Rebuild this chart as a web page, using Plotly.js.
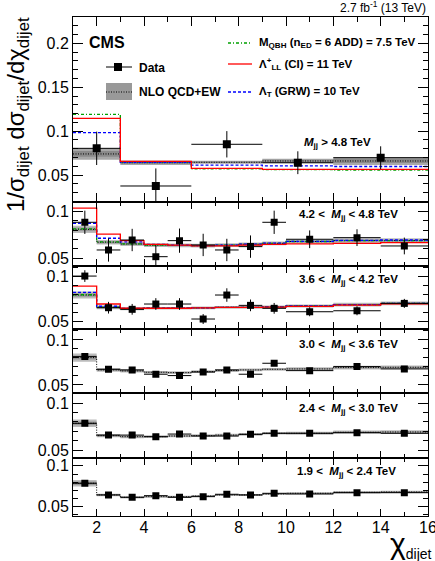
<!DOCTYPE html>
<html><head><meta charset="utf-8">
<script src="https://cdn.plot.ly/plotly-3.0.1.min.js"></script>
<style>html,body{margin:0;padding:0;background:#fff}</style>
</head><body><div id="chart" style="width:435px;height:561px"></div>
<script>
// ---------------- data ----------------
const edgesHigh = [1, 3, 6, 9, 12, 16];
const edgesLow = [1, 2, 3, 4, 5, 6, 7, 8, 9, 10, 12, 14, 16];

const massLabels = [
  '<i>M</i><sub>jj</sub> > 4.8 TeV',
  '4.2 <  <i>M</i><sub>jj</sub> < 4.8 TeV',
  '3.6 <  <i>M</i><sub>jj</sub> < 4.2 TeV',
  '3.0 <  <i>M</i><sub>jj</sub> < 3.6 TeV',
  '2.4 <  <i>M</i><sub>jj</sub> < 3.0 TeV',
  '1.9 <  <i>M</i><sub>jj</sub> < 2.4 TeV'
];

// M > 4.8 TeV
const data1 = [0.0804, 0.0375, 0.0850, 0.0640, 0.0697];
const err1  = [0.0190, 0.0200, 0.0150, 0.0130, 0.0130];
const qcd1  = [0.0740, 0.0640, 0.0645, 0.0660, 0.0660];
const unc1  = [0.0065, 0.0025, 0.0018, 0.0025, 0.0045];
const qbh1  = [0.1190, 0.0650, 0.0570, 0.0562, 0.0555];
const ci1   = [0.1146, 0.0655, 0.0576, 0.0565, 0.0565];
const grw1  = [0.0982, 0.0645, 0.0612, 0.0605, 0.0597];

// 4.2 < M < 4.8 TeV
const data2 = [0.0886, 0.0589, 0.0696, 0.0517, 0.0689, 0.0643, 0.0589, 0.0625, 0.0886, 0.0704, 0.0721, 0.0632];
const err2  = [0.0125, 0.0125, 0.0120, 0.0125, 0.0130, 0.0120, 0.0120, 0.0120, 0.0125, 0.0095, 0.0090, 0.0090];
const qcd2  = [0.0810, 0.0672, 0.0653, 0.0640, 0.0638, 0.0635, 0.0640, 0.0650, 0.0660, 0.0680, 0.0690, 0.0690];
const unc2  = [0.0040, 0.0025, 0.0022, 0.0020, 0.0020, 0.0020, 0.0020, 0.0020, 0.0020, 0.0022, 0.0025, 0.0025];
const qbh2  = [0.0815, 0.0675, 0.0655, 0.0640, 0.0638, 0.0635, 0.0640, 0.0650, 0.0660, 0.0680, 0.0690, 0.0690];
const ci2   = [0.1037, 0.0760, 0.0689, 0.0648, 0.0640, 0.0632, 0.0632, 0.0640, 0.0650, 0.0655, 0.0660, 0.0667];
const grw2  = [0.0876, 0.0715, 0.0675, 0.0650, 0.0640, 0.0635, 0.0640, 0.0652, 0.0662, 0.0682, 0.0692, 0.0696];

// 3.6 < M < 4.2 TeV
const data3 = [0.1008, 0.0656, 0.0638, 0.0697, 0.0697, 0.0530, 0.0797, 0.0682, 0.0649, 0.0611, 0.0622, 0.0704];
const err3  = [0.0065, 0.0065, 0.0060, 0.0065, 0.0065, 0.0055, 0.0075, 0.0065, 0.0060, 0.0050, 0.0050, 0.0050];
const qcd3  = [0.0797, 0.0660, 0.0645, 0.0650, 0.0650, 0.0655, 0.0660, 0.0660, 0.0665, 0.0675, 0.0690, 0.0704];
const unc3  = [0.0040, 0.0020, 0.0018, 0.0015, 0.0015, 0.0015, 0.0015, 0.0015, 0.0015, 0.0018, 0.0020, 0.0020];
const qbh3  = [0.0800, 0.0662, 0.0645, 0.0650, 0.0650, 0.0655, 0.0660, 0.0660, 0.0665, 0.0675, 0.0690, 0.0704];
const ci3   = [0.0897, 0.0697, 0.0650, 0.0650, 0.0650, 0.0655, 0.0660, 0.0660, 0.0662, 0.0670, 0.0685, 0.0700];
const grw3  = [0.0827, 0.0672, 0.0648, 0.0650, 0.0650, 0.0655, 0.0660, 0.0660, 0.0665, 0.0675, 0.0690, 0.0704];

// 3.0 < M < 3.6 TeV
const data4 = [0.0815, 0.0674, 0.0667, 0.0619, 0.0604, 0.0644, 0.0667, 0.0619, 0.0741, 0.0659, 0.0704, 0.0678];
const err4  = [0.0030, 0.0025, 0.0025, 0.0025, 0.0025, 0.0025, 0.0025, 0.0025, 0.0030, 0.0020, 0.0020, 0.0020];
const qcd4  = [0.0804, 0.0667, 0.0656, 0.0641, 0.0637, 0.0648, 0.0660, 0.0667, 0.0674, 0.0678, 0.0693, 0.0696];
const unc4  = [0.0045, 0.0020, 0.0018, 0.0015, 0.0015, 0.0015, 0.0015, 0.0015, 0.0015, 0.0018, 0.0020, 0.0020];

// 2.4 < M < 3.0 TeV
const data5 = [0.0786, 0.0660, 0.0660, 0.0643, 0.0671, 0.0650, 0.0650, 0.0668, 0.0679, 0.0679, 0.0686, 0.0679];
const err5  = [0.0015, 0.0012, 0.0012, 0.0012, 0.0012, 0.0012, 0.0012, 0.0012, 0.0012, 0.0010, 0.0010, 0.0010];
const qcd5  = [0.0786, 0.0654, 0.0643, 0.0643, 0.0650, 0.0654, 0.0660, 0.0668, 0.0679, 0.0679, 0.0690, 0.0693];
const unc5  = [0.0040, 0.0018, 0.0016, 0.0014, 0.0014, 0.0014, 0.0014, 0.0014, 0.0014, 0.0016, 0.0018, 0.0018];

// 1.9 < M < 2.4 TeV
const data6 = [0.0787, 0.0644, 0.0615, 0.0635, 0.0615, 0.0623, 0.0652, 0.0644, 0.0664, 0.0656, 0.0672, 0.0672];
const err6  = [0.0010, 0.0008, 0.0008, 0.0008, 0.0008, 0.0008, 0.0008, 0.0008, 0.0008, 0.0007, 0.0007, 0.0007];
const qcd6  = [0.0787, 0.0644, 0.0615, 0.0623, 0.0623, 0.0631, 0.0644, 0.0644, 0.0656, 0.0664, 0.0676, 0.0680];
const unc6  = [0.0040, 0.0016, 0.0014, 0.0012, 0.0012, 0.0012, 0.0012, 0.0012, 0.0012, 0.0014, 0.0016, 0.0016];

const yTickTop = [0.05, 0.1, 0.15, 0.2];
const yTickTopText = ['0.05', '0.1', '0.15', '0.2'];
const yTickLow = [0.05, 0.1];
const yTickLowText = ['0.05', '0.1'];
const xTickVals = [2, 4, 6, 8, 10, 12, 14, 16];
const xTickText = ['2', '4', '6', '8', '10', '12', '14', '16'];

// ---------------- building ----------------
const panels = [
  {edges: edgesHigh, data: data1, err: err1, qcd: qcd1, unc: unc1, qbh: qbh1, ci: ci1, grw: grw1, range: [0.0196, 0.23]},
  {edges: edgesLow, data: data2, err: err2, qcd: qcd2, unc: unc2, qbh: qbh2, ci: ci2, grw: grw2, range: [0.0417, 0.1107]},
  {edges: edgesLow, data: data3, err: err3, qcd: qcd3, unc: unc3, qbh: qbh3, ci: ci3, grw: grw3, range: [0.0419, 0.112]},
  {edges: edgesLow, data: data4, err: err4, qcd: qcd4, unc: unc4, range: [0.0407, 0.1122]},
  {edges: edgesLow, data: data5, err: err5, qcd: qcd5, unc: unc5, range: [0.0418, 0.1107]},
  {edges: edgesLow, data: data6, err: err6, qcd: qcd6, unc: unc6, range: [0.0386, 0.110]}
];

const L = 73, R = 7, T = 17, B = 45, FW = 435, FH = 561;
const PW = FW - L - R, PH = FH - T - B;
const bounds = [17, 201.7, 266, 329, 393.3, 457.7, 516];
const px = v => (v - L) / PW;
const py = v => (FH - B - v) / PH;

const centers = e => e.slice(0, -1).map((a, i) => (a + e[i + 1]) / 2);
const halfw = e => e.slice(0, -1).map((a, i) => (e[i + 1] - a) / 2);
const step = v => v.concat([v[v.length - 1]]);

const FONT = 'Liberation Sans, Arial, Helvetica, sans-serif';
const traces = [];
const layout = {
  width: FW, height: FH,
  margin: {l: L, r: R, t: T, b: B, pad: 0},
  paper_bgcolor: '#fff', plot_bgcolor: '#fff',
  showlegend: false,
  font: {family: FONT, color: '#000'},
  annotations: [], shapes: []
};

panels.forEach((p, i) => {
  const n = i + 1;
  const xa = 'x' + (n === 1 ? '' : n), ya = 'y' + (n === 1 ? '' : n);
  const xe = p.edges;
  const lo = p.qcd.map((v, k) => v - p.unc[k]);
  const hi = p.qcd.map((v, k) => v + p.unc[k]);
  const loIn = p.qcd.map((v, k) => v - 0.5 * p.unc[k]);
  const hiIn = p.qcd.map((v, k) => v + 0.5 * p.unc[k]);
  const base = {xaxis: xa, yaxis: ya, mode: 'lines', hoverinfo: 'skip'};
  traces.push(Object.assign({}, base, {x: xe, y: step(lo), line: {width: 0, shape: 'hv'}}));
  traces.push(Object.assign({}, base, {x: xe, y: step(hi), line: {width: 0, shape: 'hv'}, fill: 'tonexty', fillcolor: n === 1 ? '#a8a8a8' : '#bcbcbc'}));
  traces.push(Object.assign({}, base, {x: xe, y: step(loIn), line: {width: 0, shape: 'hv'}}));
  traces.push(Object.assign({}, base, {x: xe, y: step(hiIn), line: {width: 0, shape: 'hv'}, fill: 'tonexty', fillcolor: n === 1 ? '#8a8a8a' : '#9a9a9a'}));
  traces.push(Object.assign({}, base, {x: xe, y: step(p.qcd), line: {color: '#000', width: 1, dash: '1px,1.5px', shape: 'hv'}}));
  if (p.qbh) {
    traces.push(Object.assign({}, base, {x: xe, y: step(p.qbh), line: {color: '#00a000', width: 1.3, dash: '3px,2px,1px,2px', shape: 'hv'}}));
    traces.push(Object.assign({}, base, {x: xe, y: step(p.grw), line: {color: '#0000ff', width: 1.3, dash: '3px,2px', shape: 'hv'}}));
    traces.push(Object.assign({}, base, {x: xe, y: step(p.ci), line: {color: '#ff0000', width: 1.3, shape: 'hv'}}));
  }
  traces.push({
    xaxis: xa, yaxis: ya, type: 'scatter', mode: 'markers', hoverinfo: 'skip',
    x: centers(p.edges), y: p.data,
    marker: {symbol: 'square', size: n === 1 ? 8 : 7, color: '#000'},
    error_y: {type: 'data', array: p.err, visible: true, width: 0, thickness: 1, color: '#000'},
    error_x: {type: 'data', array: halfw(p.edges), visible: true, width: 0, thickness: 1, color: '#000'}
  });

  const top = bounds[i], bot = bounds[i + 1];
  layout['xaxis' + (n === 1 ? '' : n)] = {
    domain: [0, 1], anchor: ya, range: [1, 16],
    tickmode: 'array', tickvals: xTickVals, ticktext: xTickText,
    ticks: 'inside', ticklen: n === 1 ? 9 : 7, tickwidth: 1, tickcolor: '#000',
    minor: {dtick: 1, tick0: 0, ticks: 'inside', ticklen: n === 1 ? 5 : 4, tickcolor: '#000', tickwidth: 1, showgrid: false},
    showline: true, linecolor: '#000', linewidth: 1, mirror: 'ticks',
    showgrid: false, zeroline: false, showticklabels: n === 6,
    ticklabeloverflow: 'allow',
    tickfont: {family: FONT, size: 16, color: '#000'}, ticklabelstandoff: -3
  };
  if (n !== 1) layout['xaxis' + n].matches = 'x';
  layout['yaxis' + (n === 1 ? '' : n)] = {
    domain: [py(bot), py(top)], anchor: xa, range: p.range,
    tickmode: 'array',
    tickvals: n === 1 ? yTickTop : yTickLow,
    ticktext: n === 1 ? yTickTopText : yTickLowText,
    ticks: 'inside', ticklen: 10, tickwidth: 1, tickcolor: '#000',
    minor: {dtick: 0.01, tick0: 0, ticks: 'inside', ticklen: 5, tickcolor: '#000', tickwidth: 1, showgrid: false},
    showline: true, linecolor: '#000', linewidth: 1, mirror: 'ticks',
    showgrid: false, zeroline: false,
    tickfont: {family: FONT, size: 16, color: '#000'}
  };

  // mass label
  const lblY = [143, 215, 280, 345, 409, 472][i];
  const lblX = [373, 400, 400, 400, 400, 398][i];
  layout.annotations.push({
    xref: 'paper', yref: 'paper', x: px(lblX), y: py(lblY), xanchor: 'right', yanchor: 'middle',
    text: '<b>' + massLabels[i] + '</b>', showarrow: false, font: {family: FONT, size: 11.5, color: '#000'}
  });
});

// texts
const ann = (x, y, text, size, xa, extra) => layout.annotations.push(Object.assign({
  xref: 'paper', yref: 'paper', x: px(x), y: py(y), xanchor: xa || 'left', yanchor: 'middle',
  text: text, showarrow: false, font: {family: FONT, size: size, color: '#000'}
}, extra || {}));

ann(428, 7, '2.7 fb<sup>-1</sup> (13 TeV)', 12, 'right');
ann(87, 42, '<b>CMS</b>', 16, 'left');
ann(137, 68, '<b>Data</b>', 12, 'left');
ann(137, 92, '<b>NLO QCD+EW</b>', 12, 'left');
ann(257, 43, '<b>M<sub>QBH</sub> (n<sub>ED</sub> = 6 ADD) = 7.5 TeV</b>', 11.5, 'left');
ann(257, 64, '<b>Λ<sup>+</sup><sub>LL</sub> (CI) = 11 TeV</b>', 11.5, 'left');
ann(257, 92, '<b>Λ<sub>T</sub> (GRW) = 10 TeV</b>', 11.5, 'left');
ann(18, 115, '1/σ<sub>dijet</sub> dσ<sub>dijet</sub>/dχ<sub>dijet</sub>', 24, 'center', {textangle: -90});
ann(434, 544, '<span style="font-size:30px">χ</span><sub><span style="font-size:14px">dijet</span></sub>', 26, 'right');

// legend symbols
const shp = s => layout.shapes.push(Object.assign({xref: 'paper', yref: 'paper'}, s));
shp({type: 'line', x0: px(106), x1: px(132), y0: py(67), y1: py(67), line: {color: '#000', width: 1}});
shp({type: 'rect', x0: px(114), x1: px(122), y0: py(63), y1: py(71), fillcolor: '#000', line: {width: 0}});
shp({type: 'rect', x0: px(106), x1: px(132), y0: py(83), y1: py(100), fillcolor: '#999999', line: {width: 0}});
shp({type: 'line', x0: px(106), x1: px(132), y0: py(92), y1: py(92), line: {color: '#000', width: 1, dash: '1px,1.5px'}});
shp({type: 'line', x0: px(228), x1: px(252), y0: py(43), y1: py(43), line: {color: '#00a000', width: 1.3, dash: '3px,2px,1px,2px'}});
shp({type: 'line', x0: px(228), x1: px(252), y0: py(64), y1: py(64), line: {color: '#ff0000', width: 1.3}});
shp({type: 'line', x0: px(228), x1: px(252), y0: py(92), y1: py(92), line: {color: '#0000ff', width: 1.3, dash: '3px,2px'}});

Plotly.newPlot('chart', traces, layout, {staticPlot: true, displayModeBar: false});
</script>
</body></html>
